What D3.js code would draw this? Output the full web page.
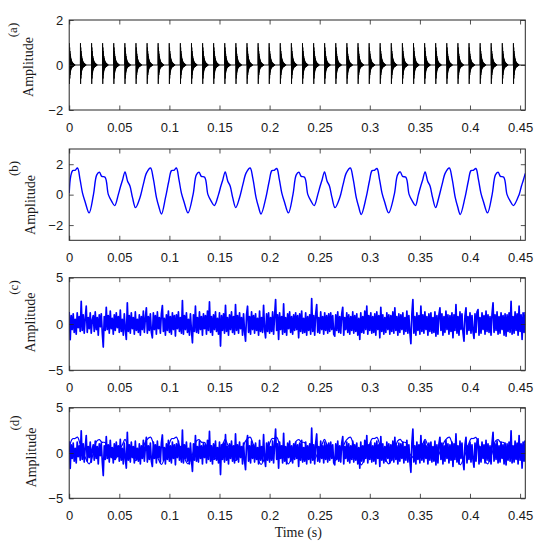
<!DOCTYPE html>
<html>
<head>
<meta charset="utf-8">
<script src="https://cdn.jsdelivr.net/npm/d3@7"></script>
<style>
  html, body { margin: 0; padding: 0; background: #fff; }
  svg { display: block; }
</style>
</head>
<body>
<div id="chart"></div>
<script>
// ---- data ----

// shared time axis ticks
const xTicks = [0, 0.05, 0.1, 0.15, 0.2, 0.25, 0.3, 0.35, 0.4, 0.45];
const xTickLabels = ["0", "0.05", "0.1", "0.15", "0.2", "0.25", "0.3", "0.35", "0.4", "0.45"];

const panelLetters = ["(a)", "(b)", "(c)", "(d)"];
const yTicksA = [-2, 0, 2];
const yTicksB = [-2, 0, 2];
const yTicksC = [-5, 0, 5];
const yTicksD = [-5, 0, 5];

// (a) impulse train: start time of each impact and the ringing of one impact
const impulseTimes = [0, 0.0111, 0.0222, 0.0332, 0.0443, 0.0554, 0.0665, 0.0776, 0.0886, 0.0997,
  0.1108, 0.1219, 0.133, 0.144, 0.1551, 0.1662, 0.1773, 0.1884, 0.1994, 0.2105,
  0.2216, 0.2327, 0.2438, 0.2548, 0.2659, 0.277, 0.2881, 0.2992, 0.3102, 0.3213,
  0.3324, 0.3435, 0.3546, 0.3656, 0.3767, 0.3878, 0.3989, 0.41, 0.421, 0.4321, 0.4432];
const impulseStep = 0.00015;
const impulseShape = [0, 0.97, -0.84, 0.78, -0.6, 0.62, -0.44, 0.5, -0.33, 0.4, -0.25, 0.32, -0.2, 0.26,
  -0.16, 0.21, -0.14, 0.17, -0.12, 0.14, -0.1, 0.12, -0.09, 0.1, -0.08, 0.08, -0.07, 0.07,
  -0.06, 0.06, -0.05, 0.05, -0.04, 0.04, -0.03, 0.03, -0.02, 0.02, -0.01, 0];

// (b) periodic component: key points (time, value)
const waveTime = [
  0, 0.0015, 0.0034, 0.0058, 0.0083, 0.0108, 0.0133, 0.0158, 0.0199,
  0.0242, 0.0275, 0.0302, 0.0325, 0.0358, 0.0391, 0.0424, 0.0454,
  0.049, 0.0513, 0.0532, 0.0557, 0.0582, 0.0607, 0.0632, 0.0662,
  0.0706, 0.0739, 0.0772, 0.0812, 0.0838, 0.0871, 0.0895, 0.0921,
  0.0961, 0.0994, 0.1021, 0.1045, 0.107, 0.1095, 0.112, 0.1145, 0.1186,
  0.1236, 0.1269, 0.1296, 0.1319, 0.1352, 0.1385, 0.1418, 0.1448,
  0.149, 0.1513, 0.1532, 0.1557, 0.1582, 0.1607, 0.1632, 0.1662,
  0.17, 0.1733, 0.1766, 0.1806, 0.1832, 0.1865, 0.1889, 0.1915,
  0.1963, 0.1996, 0.2023, 0.2047, 0.2072, 0.2097, 0.2122, 0.2147, 0.2188,
  0.2233, 0.2266, 0.2293, 0.2316, 0.2349, 0.2382, 0.2415, 0.2445,
  0.2481, 0.2504, 0.2523, 0.2548, 0.2573, 0.2598, 0.2623, 0.2653,
  0.27, 0.2733, 0.2766, 0.2806, 0.2832, 0.2865, 0.2889, 0.2915,
  0.2963, 0.2996, 0.3023, 0.3047, 0.3072, 0.3097, 0.3122, 0.3147, 0.3188,
  0.3244, 0.3277, 0.3304, 0.3327, 0.336, 0.3393, 0.3426, 0.3456,
  0.3485, 0.3508, 0.3527, 0.3552, 0.3577, 0.3602, 0.3627, 0.3657,
  0.3688, 0.3721, 0.3754, 0.3794, 0.382, 0.3853, 0.3877, 0.3903,
  0.395, 0.3983, 0.401, 0.4034, 0.4059, 0.4084, 0.4109, 0.4134, 0.4175,
  0.4221, 0.4254, 0.4281, 0.4304, 0.4337, 0.437, 0.4403, 0.4433,
  0.449, 0.4513, 0.4532, 0.4552];
const waveValue = [
  0.1, 1.2, 1.58, 1.6, 1.75, 1.0, 0.1, -0.45, -1.2,
  0, 1.3, 1.47, 1.2, 1.15, 0, -0.44, -0.72,
  0, 0.55, 0.95, 1.5, 0.9, 0.55, -0.2, -0.85,
  -0.2, 0.66, 1.43, 1.75, 1.1, -0.2, -0.8, -1.27,
  -0.2, 0.88, 1.58, 1.6, 1.75, 1.0, 0.1, -0.45, -1.2,
  0, 1.3, 1.47, 1.2, 1.15, 0, -0.44, -0.72,
  0, 0.55, 0.95, 1.5, 0.9, 0.55, -0.2, -0.85,
  -0.2, 0.66, 1.43, 1.75, 1.1, -0.2, -0.8, -1.27,
  -0.2, 0.88, 1.58, 1.6, 1.72, 1.0, 0.1, -0.45, -1.2,
  0, 1.3, 1.47, 1.2, 1.15, 0, -0.44, -0.72,
  0, 0.55, 0.95, 1.5, 0.9, 0.55, -0.2, -0.85,
  -0.2, 0.66, 1.43, 1.75, 1.1, -0.2, -0.8, -1.3,
  -0.2, 0.88, 1.58, 1.6, 1.72, 1.0, 0.1, -0.45, -1.2,
  0, 1.3, 1.5, 1.2, 1.15, 0, -0.44, -0.72,
  0, 0.55, 0.95, 1.5, 0.9, 0.55, -0.2, -0.85,
  -0.2, 0.66, 1.43, 1.75, 1.1, -0.2, -0.8, -1.3,
  -0.2, 0.88, 1.58, 1.6, 1.72, 1.0, 0.1, -0.45, -1.2,
  0, 1.3, 1.47, 1.2, 1.15, 0, -0.44, -0.72,
  0, 0.55, 0.95, 1.4];

// (c)/(d) noise, one value per millisecond
const noiseStep = 0.001;
const noiseValues = [
  1.3, -1.7, 0.9, -0.6, 1.1, -0.9, 0.5, -1.1, 1.2, -0.4, 0.8, -0.8, 2.45, -0.7, 1.0, -1.0, 0.6, 1.92, -0.9, 0.7,
  -0.5, 1.2, -1.0, 0.4, 0.9, -0.8, 1.3, -0.6, 0.7, -1.2, 1.0, -0.3, 1.1, -0.9, -2.49, 0.8, -0.7, 1.81, -0.6, 0.9,
  -1.0, 1.4, -0.5, 0.6, -1.1, 1.0, -0.7, 1.2, -0.4, 0.8, -0.9, 1.5, -0.8, 0.5, -1.2, 1.1, -0.6, -1.67, 2.28, -0.8,
  0.9, -1.0, 1.2, -0.5, 0.7, -1.1, 1.3, -0.7, 0.5, -0.9, 1.0, -1.2, 0.8, -0.6, 1.4, -0.9, 0.6, 1.74, -1.0, 0.8,
  -0.7, 1.1, -0.9, -1.49, 1.2, -0.6, 0.9, -1.1, 1.3, -0.5, 0.7, -1.0, 1.1, 1.99, -0.8, 0.6, -1.2, 1.0, -0.7, 1.4,
  -0.9, 0.8, -1.1, 1.2, -0.6, 0.9, -1.3, 1.0, -0.5, 1.3, -0.8, 0.7, -1.0, 2.53, -1.1, 0.9, -0.6, 1.2, -0.9, 0.5,
  -1.2, 1.1, -0.7, -2.03, 1.0, -0.8, 1.92, -0.9, 0.7, -1.0, 1.3, -0.6, 0.8, -1.2, 1.1, -0.5, 0.9, -1.1, 1.4, -0.7,
  2.38, -0.9, 0.8, -1.2, 1.0, -0.6, 1.3, -0.8, 0.6, -1.1, 1.2, -2.38, 0.9, -0.7, 1.1, -1.0, 2.02, -0.8, 0.7, -1.2,
  1.0, -0.6, 1.3, -0.9, 0.8, -1.1, 2.1, -0.7, 0.9, -1.0, 1.2, -0.5, 0.7, -1.2, 1.1, -0.8, -1.85, 1.0, 1.92, -0.9,
  0.8, -1.1, 1.3, -0.6, 0.9, -1.0, 1.1, -0.7, 0.6, -1.2, 1.4, -0.8, 0.7, -0.9, 2.02, -0.6, -1.49, 1.1, -0.8, 1.2,
  -1.0, 0.7, -0.8, 1.3, -1.1, 0.9, 2.63, -0.7, 1.0, -1.67, 1.2, -0.6, 0.8, -1.1, 2.17, -0.9, 0.7, -1.2, 1.1, -0.5,
  1.3, -0.9, 0.8, -1.1, 1.0, -0.7, 1.2, -0.6, 0.9, -1.49, 1.1, -0.8, 1.4, -1.0, 0.6, -0.9, 1.2, -1.2, 0.8, -0.7,
  1.0, -1.1, 2.74, -0.8, 0.9, -1.2, 1.1, 2.1, -0.9, 0.7, -1.0, 1.3, -0.6, 0.8, -1.1, 1.2, -0.7, 0.9, -1.0, 1.1,
  -0.8, 1.2, -0.6, 0.9, -1.1, -1.31, 1.0, -0.7, 1.3, -0.9, 0.8, -1.0, 1.1, 1.81, -1.2, 0.7, -0.6, 1.2, -0.9, 1.0,
  -1.1, 0.8, -0.7, 1.3, -1.0, 0.9, -0.8, 1.1, -1.2, 0.6, -1.67, 1.2, -0.9, 0.8, -1.0, 1.4, -0.6, 1.92, -1.1, 0.9,
  -0.7, 1.2, -1.0, 0.8, -0.9, 1.1, -1.2, 1.3, -0.6, 0.9, -1.49, 1.81, -0.8, 1.0, -1.1, 0.7, -0.9, 1.2, -0.6, 1.0,
  -1.1, 0.9, -0.8, 1.3, -1.0, 1.74, -0.7, 0.8, -1.2, 1.1, -0.9, 1.0, -0.6, 1.2, -1.1, 0.7, -0.8, 1.4, -1.0, 0.9,
  -0.9, -2.13, 1.1, 2.63, -1.0, 0.8, -1.2, 1.2, -0.7, 0.9, -1.1, 1.92, -0.8, 1.0, -1.0, 1.3, -0.6, 0.8, -1.2, 1.1,
  -0.8, 1.2, -1.0, 0.7, -0.9, 1.3, -1.31, 0.9, -1.1, 1.0, 1.74, -0.7, 1.1, -1.2, 0.8, -0.9, 1.4, -0.6, 1.0, -1.1,
  0.9, -0.8, 1.2, -1.49, 1.0, -0.7, 2.1, -1.0, 0.8, -1.2, 1.3, -0.6, 1.1, -0.9, -1.85, 0.9, 1.74, -1.1, 0.8, -0.7,
  1.2, -1.0, 0.9, -0.8, -1.56, 1.1, -0.9, 1.3, 1.56, -1.2, 0.7, -1.0, 1.2, -0.6, 0.9, -1.1, 1.4, -0.8, 1.0, -0.9,
  0.8, -1.2, 1.1, 2.28, -0.9, 1.0, -0.7, 1.3, -1.1, 0.8, -1.0, 1.2, -0.6, 0.9, -1.2, 1.1, -1.31, 1.0, -0.8, 1.2,
  -0.9, 2.45, -1.1, 0.8, -1.0, 1.3, -0.7, 1.1, -1.2, 1.92, -0.8, 1.0, -1.67, 1.2, -0.9, 1.3];

// ---- layout ----
const width = 538, height = 550;
const plotLeft = 69.2, plotRight = 525.3;
const tickLen = 4.5;
const sansFont = "'Liberation Sans', Arial, sans-serif";
const serifFont = "'Liberation Serif', 'Times New Roman', serif";
const axisColor = "#262626";

// build point lists from the arrays above
function impulsePoints() {
  const pts = [];
  impulseTimes.forEach(t0 => {
    impulseShape.forEach((v, k) => pts.push([t0 + k * impulseStep, v]));
  });
  pts.push([0.4552, 0]);
  return pts;
}
const wavePoints = waveTime.map((t, k) => [t, waveValue[k]]);
const noisePoints = noiseValues.map((v, k) => [k * noiseStep, v]);

const smooth = d3.curveCatmullRom.alpha(0.5);

const panels = [
  { letter: panelLetters[0], top: 20, bottom: 110, yDomain: [-2, 2], yTicks: yTicksA,
    letterPos: [12.5, 30], ampPos: [28, 67],
    series: [{ points: impulsePoints(), color: "#000", width: 0.9, curve: d3.curveLinear }] },
  { letter: panelLetters[1], top: 149, bottom: 240.3, yDomain: [-3, 3], yTicks: yTicksB,
    letterPos: [13.3, 168.5], ampPos: [30, 205],
    series: [{ points: wavePoints, color: "#0000ff", width: 1.4, curve: smooth }] },
  { letter: panelLetters[2], top: 277.7, bottom: 370.3, yDomain: [-5, 5], yTicks: yTicksC,
    letterPos: [13.3, 287.5], ampPos: [30.5, 322.5],
    series: [{ points: noisePoints, color: "#0000ff", width: 1.7, curve: d3.curveLinear }] },
  { letter: panelLetters[3], top: 407.7, bottom: 498.3, yDomain: [-5, 5], yTicks: yTicksD,
    letterPos: [14.7, 423], ampPos: [31, 457.5],
    series: [
      { points: noisePoints, color: "#0000ff", width: 1.7, curve: d3.curveLinear },
      { points: wavePoints, color: "#0000ff", width: 1.2, curve: smooth }
    ] }
];

const x = d3.scaleLinear().domain([0, 0.4552]).range([plotLeft, plotRight]);

const svg = d3.select("#chart").append("svg")
  .attr("width", width)
  .attr("height", height);

svg.append("rect").attr("width", width).attr("height", height).attr("fill", "#fff");

function styleAxis(g) {
  g.select(".domain").remove();
  g.selectAll(".tick line").attr("stroke", axisColor).attr("stroke-width", 0.8);
  g.selectAll(".tick text")
    .attr("fill", "#1a1a1a")
    .style("font-family", sansFont)
    .style("font-size", "13px");
}

function drawPanel(p, i) {
  const y = d3.scaleLinear().domain(p.yDomain).range([p.bottom, p.top]);
  const g = svg.append("g");

  // clip data to the axes box
  const clipId = "clip" + i;
  svg.append("clipPath").attr("id", clipId).append("rect")
    .attr("x", plotLeft).attr("y", p.top)
    .attr("width", plotRight - plotLeft).attr("height", p.bottom - p.top);

  const plot = g.append("g").attr("clip-path", `url(#${clipId})`);
  p.series.forEach(s => {
    const line = d3.line().x(d => x(d[0])).y(d => y(d[1])).curve(s.curve);
    plot.append("path")
      .datum(s.points)
      .attr("fill", "none")
      .attr("stroke", s.color)
      .attr("stroke-width", s.width)
      .attr("stroke-linejoin", "round")
      .attr("d", line);
  });

  // ticks pointing inward on all four sides (box on)
  g.append("g").attr("transform", `translate(0,${p.bottom})`)
    .call(d3.axisBottom(x).tickValues(xTicks).tickFormat((d, k) => xTickLabels[k])
      .tickSizeInner(-tickLen).tickSizeOuter(0).tickPadding(12.5))
    .call(styleAxis);
  g.append("g").attr("transform", `translate(0,${p.top})`)
    .call(d3.axisTop(x).tickValues(xTicks).tickFormat("").tickSizeInner(-tickLen).tickSizeOuter(0))
    .call(styleAxis);
  g.append("g").attr("transform", `translate(${plotLeft},0)`)
    .call(d3.axisLeft(y).tickValues(p.yTicks).tickFormat(d3.format("d"))
      .tickSizeInner(-tickLen).tickSizeOuter(0).tickPadding(6))
    .call(styleAxis);
  g.append("g").attr("transform", `translate(${plotRight},0)`)
    .call(d3.axisRight(y).tickValues(p.yTicks).tickFormat("").tickSizeInner(-tickLen).tickSizeOuter(0))
    .call(styleAxis);

  // frame
  g.append("rect")
    .attr("x", plotLeft).attr("y", p.top)
    .attr("width", plotRight - plotLeft).attr("height", p.bottom - p.top)
    .attr("fill", "none").attr("stroke", axisColor).attr("stroke-width", 1);

  // panel letter and y label, both rotated
  g.append("text")
    .attr("transform", `translate(${p.letterPos[0]},${p.letterPos[1]}) rotate(-90)`)
    .attr("text-anchor", "middle").attr("dominant-baseline", "central")
    .style("font-family", serifFont).style("font-size", "13px").attr("fill", "#1a1a1a")
    .text(p.letter);
  g.append("text")
    .attr("transform", `translate(${p.ampPos[0]},${p.ampPos[1]}) rotate(-90)`)
    .attr("text-anchor", "middle").attr("dominant-baseline", "central")
    .style("font-family", serifFont).style("font-size", "14px").attr("fill", "#1a1a1a")
    .text("Amplitude");
}

panels.forEach(drawPanel);

svg.append("text")
  .attr("x", 298.3).attr("y", 537)
  .attr("text-anchor", "middle")
  .style("font-family", serifFont).style("font-size", "14px").attr("fill", "#1a1a1a")
  .text("Time (s)");
</script>
</body>
</html>
